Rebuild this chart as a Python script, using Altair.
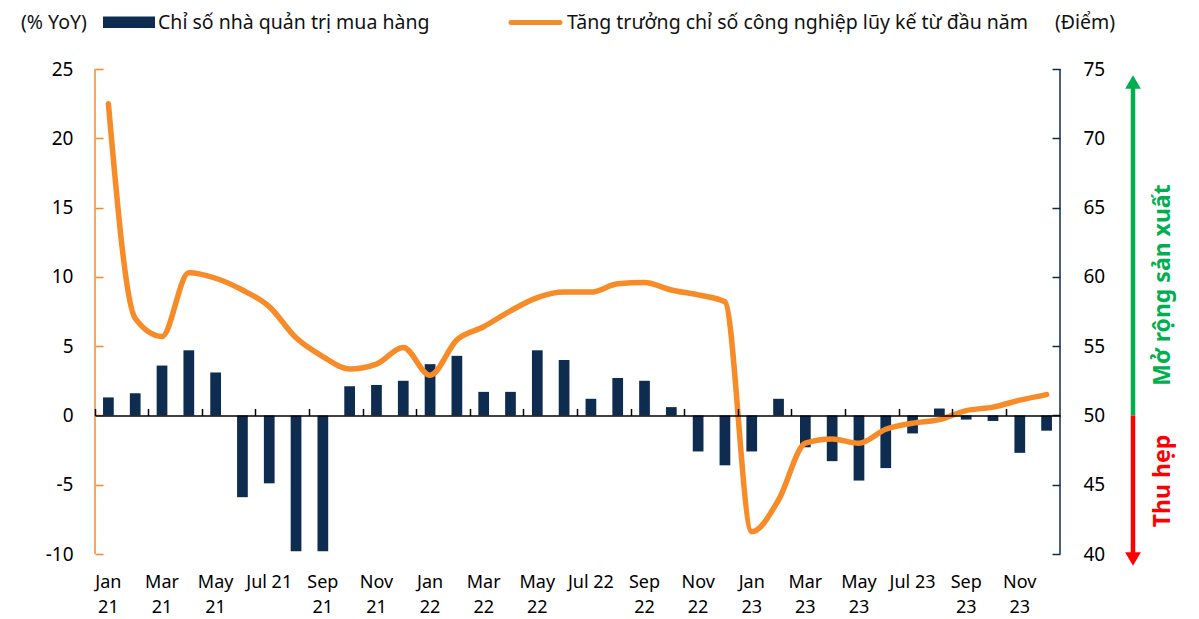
import altair as alt
import pandas as pd

# ---------------- data ----------------
months = ["Jan 21", "Feb 21", "Mar 21", "Apr 21", "May 21", "Jun 21",
          "Jul 21", "Aug 21", "Sep 21", "Oct 21", "Nov 21", "Dec 21",
          "Jan 22", "Feb 22", "Mar 22", "Apr 22", "May 22", "Jun 22",
          "Jul 22", "Aug 22", "Sep 22", "Oct 22", "Nov 22", "Dec 22",
          "Jan 23", "Feb 23", "Mar 23", "Apr 23", "May 23", "Jun 23",
          "Jul 23", "Aug 23", "Sep 23", "Oct 23", "Nov 23", "Dec 23"]

# PMI (points, right axis)
pmi = [51.3, 51.6, 53.6, 54.7, 53.1, 44.1, 45.1, 40.2, 40.2, 52.1, 52.2, 52.5,
       53.7, 54.3, 51.7, 51.7, 54.7, 54.0, 51.2, 52.7, 52.5, 50.6, 47.4, 46.4,
       47.4, 51.2, 47.7, 46.7, 45.3, 46.2, 48.7, 50.5, 49.7, 49.6, 47.3, 48.9]

# Cumulative industrial production growth (% YoY, left axis)
iip = [22.5, 7.0, 5.7, 10.3, 9.9, 9.05, 7.85, 5.6, 4.25, 3.35, 3.7, 4.9,
       2.9, 5.45, 6.4, 7.55, 8.5, 8.9, 8.9, 9.5, 9.6, 9.05, 8.7, 8.2,
       -8.4, -6.1, -2.0, -1.7, -2.0, -1.0, -0.56, -0.3, 0.35, 0.6, 1.1, 1.5]

left_ticks = [-10, -5, 0, 5, 10, 15, 20, 25]
right_ticks = [40, 45, 50, 55, 60, 65, 70, 75]
left_domain = [-10, 25]
right_domain = [40, 75]
pmi_base = 50

legend_left_unit = "(% YoY)"
legend_right_unit = "(Điểm)"
bar_name = "Chỉ số nhà quản trị mua hàng"
line_name = "Tăng trưởng chỉ số công nghiệp lũy kế từ đầu năm"
expand_text = "Mở rộng sản xuất"
shrink_text = "Thu hẹp"

# ---------------- style ----------------
NAVY = "#0E2C4F"
ORANGE = "#F68B27"
GREEN = "#00B050"
RED = "#FF0000"
FONT = "Noto Sans"
FS = 19
XFS = 18
LEG_FS = 19.5
W, H = 965, 485
zero_px = H * left_domain[1] / (left_domain[1] - left_domain[0])

df = pd.DataFrame({"month": months, "pmi": pmi, "iip": iip})
labelled = months[::2]

bars = alt.Chart(df).mark_bar(color=NAVY).encode(
    x=alt.X("month:N", sort=months,
            scale=alt.Scale(type="band", paddingInner=0.6, paddingOuter=0.3),
            axis=alt.Axis(title=None, orient="bottom", domain=False, ticks=False,
                          tickSize=0, values=labelled, labelAngle=0,
                          labelOverlap=False, labelFont=FONT, labelFontSize=XFS,
                          labelColor="#000", labelPadding=19, labelLineHeight=25,
                          labelExpr="slice(datum.value,0,3)=='Jul' ? datum.value : split(datum.value,' ')")),
    y=alt.Y("pmi:Q",
            scale=alt.Scale(domain=right_domain, nice=False, zero=False),
            axis=alt.Axis(title=None, orient="right", offset=-8, domain=False,
                          grid=False, tickColor=NAVY, tickSize=8, tickWidth=1.5,
                          values=right_ticks, labelFont=FONT, labelFontSize=FS,
                          labelColor="#000", labelPadding=23)),
    y2=alt.datum(pmi_base),
)

line = alt.Chart(df).mark_line(color=ORANGE, strokeWidth=5.5, interpolate="monotone",
                               strokeCap="round", strokeJoin="round").encode(
    x=alt.X("month:N", sort=months, bandPosition=0.5,
            scale=alt.Scale(type="band", paddingInner=0, paddingOuter=0),
            axis=alt.Axis(title=None, orient="top", offset=-zero_px, labels=False,
                          domainColor="#000", domainWidth=1.5, tickColor="#000",
                          tickWidth=1.5, tickSize=7, bandPosition=0,
                          values=labelled, zindex=1)),
    y=alt.Y("iip:Q",
            scale=alt.Scale(domain=left_domain, nice=False),
            axis=alt.Axis(title=None, orient="left", offset=-8, domain=False,
                          grid=False, tickColor=ORANGE, tickSize=8, tickWidth=1.5,
                          values=left_ticks, labelFont=FONT, labelFontSize=FS,
                          labelColor="#000", labelPadding=22,
                          labelExpr="'' + datum.value")),
)

one = pd.DataFrame({"a": [0]})
base = alt.Chart(one)

left_dom = base.mark_rule(color=ORANGE, strokeWidth=1.5).encode(
    x=alt.value(0), y=alt.value(0), y2=alt.value(H))
right_dom = base.mark_rule(color=NAVY, strokeWidth=1.5).encode(
    x=alt.value(W), y=alt.value(0), y2=alt.value(H))

# legend
leg_y = -46.5
leg_rect = base.mark_rect(color=NAVY).encode(
    x=alt.value(8), x2=alt.value(60), y=alt.value(leg_y - 6), y2=alt.value(leg_y + 5.5))
leg_line = base.mark_rule(color=ORANGE, strokeWidth=5, strokeCap="round").encode(
    x=alt.value(416), x2=alt.value(465), y=alt.value(leg_y), y2=alt.value(leg_y))

def txt(s, x, y, **kw):
    return base.mark_text(text=s, font=FONT, fontSize=LEG_FS, align="left",
                          baseline="middle", color="#111", **kw).encode(
        x=alt.value(x), y=alt.value(y))

t1 = txt(legend_left_unit, -74, leg_y)
t2 = txt(bar_name, 63, leg_y)
t3 = txt(line_name, 472, leg_y)
t4 = txt(legend_right_unit, 960, leg_y)

# expansion / contraction arrow
ax = 1038
g_rule = base.mark_rule(color=GREEN, strokeWidth=4.5).encode(
    x=alt.value(ax), y=alt.value(zero_px), y2=alt.value(16))
g_head = base.mark_point(shape="triangle-up", filled=True, size=250, color=GREEN,
                         opacity=1).encode(x=alt.value(ax), y=alt.value(13))
r_rule = base.mark_rule(color=RED, strokeWidth=4.5).encode(
    x=alt.value(ax), y=alt.value(zero_px), y2=alt.value(487))
r_head = base.mark_point(shape="triangle-down", filled=True, size=250, color=RED,
                         opacity=1).encode(x=alt.value(ax), y=alt.value(490))
g_text = base.mark_text(text=expand_text, font=FONT, fontSize=23, fontWeight="bold",
                        color=GREEN, angle=270, align="center", baseline="middle").encode(
    x=alt.value(1068), y=alt.value(216))
r_text = base.mark_text(text=shrink_text, font=FONT, fontSize=23, fontWeight="bold",
                        color=RED, angle=270, align="center", baseline="middle").encode(
    x=alt.value(1068), y=alt.value(412))

chart = alt.layer(
    bars, line, left_dom, right_dom, leg_rect, leg_line, t1, t2, t3, t4,
    g_rule, g_head, r_rule, r_head, g_text, r_text
).resolve_scale(x="independent", y="independent").properties(
    width=W, height=H,
    padding={"left": 87, "top": 61, "right": 131, "bottom": 65},
    autosize=alt.AutoSizeParams(type="none"),
    background="white",
).configure_view(stroke=None)

chart.save("out.html", embed_options={"renderer": "svg", "actions": False})
